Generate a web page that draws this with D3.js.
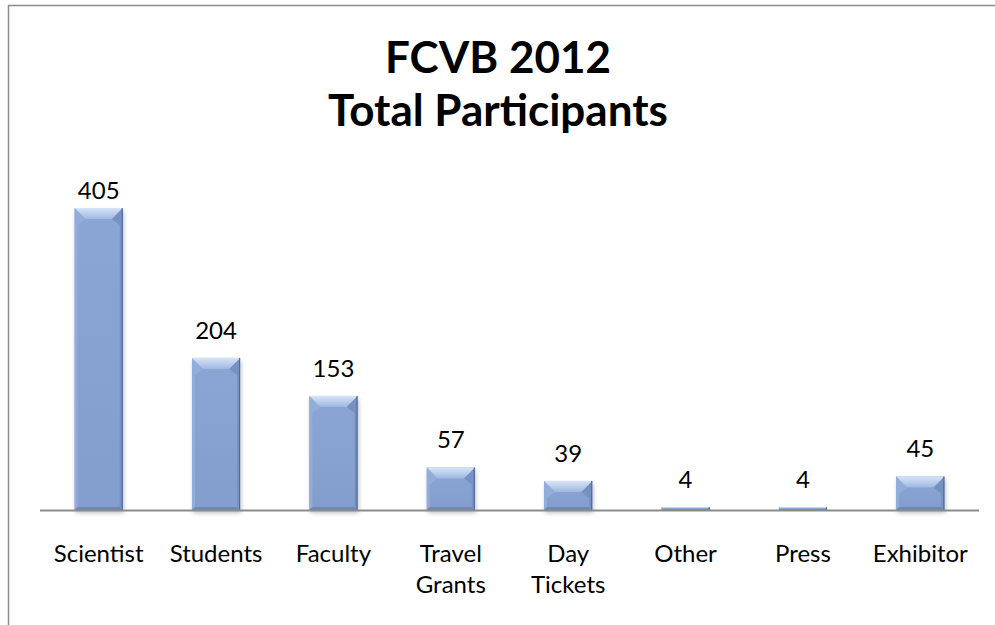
<!DOCTYPE html>
<html><head><meta charset="utf-8">
<script src="https://cdn.jsdelivr.net/npm/d3@7"></script>
<style>body{margin:0;background:#fff}svg{display:block}</style>
</head><body>
<script>
const categories = [["Scientist"],["Students"],["Faculty"],["Travel","Grants"],["Day","Tickets"],["Other"],["Press"],["Exhibitor"]];
const values = [405, 204, 153, 57, 39, 4, 4, 45];
const titleLines = ["FCVB 2012", "Total Participants"];

const W = 995, H = 625;
const svg = d3.select("body").append("svg").attr("width", W).attr("height", H);
const defs = svg.append("defs");
const g1 = defs.append("linearGradient").attr("id","bodyG").attr("x1","0").attr("x2","0").attr("y1","0").attr("y2","1");
g1.append("stop").attr("offset","0").attr("stop-color","#8ba6d4");
g1.append("stop").attr("offset","1").attr("stop-color","#839ecd");
const g2 = defs.append("linearGradient").attr("id","topG").attr("x1","0").attr("x2","0").attr("y1","0").attr("y2","1");
g2.append("stop").attr("offset","0").attr("stop-color","#d8e4f6");
g2.append("stop").attr("offset","1").attr("stop-color","#9fb8e2");
const f = defs.append("filter").attr("id","sh").attr("x","-20%").attr("y","-20%").attr("width","140%").attr("height","140%");
f.append("feGaussianBlur").attr("in","SourceAlpha").attr("stdDeviation","2");
f.append("feOffset").attr("dx","1").attr("dy","3").attr("result","b");
f.append("feComponentTransfer").append("feFuncA").attr("type","linear").attr("slope","0.25");
const fm = f.append("feMerge"); fm.append("feMergeNode"); fm.append("feMergeNode").attr("in","SourceGraphic");

// outer border
svg.append("rect").attr("x",8.5).attr("y",5.5).attr("width",1200).attr("height",1200)
  .attr("fill","none").attr("stroke","#8c8c8c").attr("stroke-width",1.5);

const x = d3.scaleBand().domain(d3.range(values.length)).range([40, 979]).paddingInner(0.59).paddingOuter(0.295);
const y = d3.scaleLinear().domain([0, 405]).range([510, 208]);

const font = "Lato, Calibri, Carlito, 'Open Sans', sans-serif";

svg.append("g").selectAll("text").data(titleLines).join("text")
  .attr("x", 498).attr("y", (d,i)=> 73 + i*53)
  .attr("text-anchor","middle").attr("font-family",font).attr("font-weight","bold")
  .attr("font-size",44).attr("fill","#000").text(d=>d);

const pts = a => a.map(p=>p.join(",")).join(" ");
const bars = svg.append("g").selectAll("g").data(values).join("g").attr("filter","url(#sh)");
bars.each(function(v,i){
  const g = d3.select(this);
  const x0 = x(i), w = x.bandwidth(), y0 = y(v), y1 = y(0), h = y1 - y0;
  const b = Math.min(11, h/2), s = Math.min(3, h/2), bb = Math.min(3, h/2);
  const t = y0 + Math.min(b + 6, h - bb);
  g.append("rect").attr("x",x0).attr("y",y0).attr("width",w).attr("height",h).attr("fill","url(#bodyG)");
  g.append("polygon").attr("points",pts([[x0,y0],[x0+b,y0+b],[x0+s,t],[x0+s,y1-bb],[x0,y1]])).attr("fill","#93addA");
  g.append("polygon").attr("points",pts([[x0+w,y0],[x0+w-b,y0+b],[x0+w-s,t],[x0+w-s,y1-bb],[x0+w,y1]])).attr("fill","#7591c2");
  g.append("polygon").attr("points",pts([[x0,y1],[x0+s,y1-bb],[x0+w-s,y1-bb],[x0+w,y1]])).attr("fill","#6c88b8");
  g.append("polygon").attr("points",pts([[x0,y0],[x0+w,y0],[x0+w-b,y0+b],[x0+b,y0+b]])).attr("fill","url(#topG)");
  g.append("line").attr("x1",x0+w-0.5).attr("x2",x0+w-0.5).attr("y1",y0).attr("y2",y1).attr("stroke","#4d6593").attr("stroke-width",1);
});

// axis line
svg.append("line").attr("x1",40).attr("x2",979).attr("y1",510.5).attr("y2",510.5).attr("stroke","#8c8c8c").attr("stroke-width",2);

// value labels (clamped to top of plot area)
svg.append("g").selectAll("text").data(values).join("text")
  .attr("x",(d,i)=>x(i)+x.bandwidth()/2).attr("y",d=>Math.max(y(d)-19, 199))
  .attr("text-anchor","middle").attr("font-family",font).attr("font-size",24).attr("fill","#000").text(d=>d);

// category labels
const cl = svg.append("g").selectAll("text").data(categories).join("text")
  .attr("x",(d,i)=>x(i)+x.bandwidth()/2).attr("y",562)
  .attr("text-anchor","middle").attr("font-family",font).attr("font-size",24).attr("fill","#000");
cl.selectAll("tspan").data(d=>d).join("tspan")
  .attr("x",function(){return this.parentNode.getAttribute("x");})
  .attr("dy",(d,j)=> j? 31 : 0).text(d=>d);
</script>
</body></html>
